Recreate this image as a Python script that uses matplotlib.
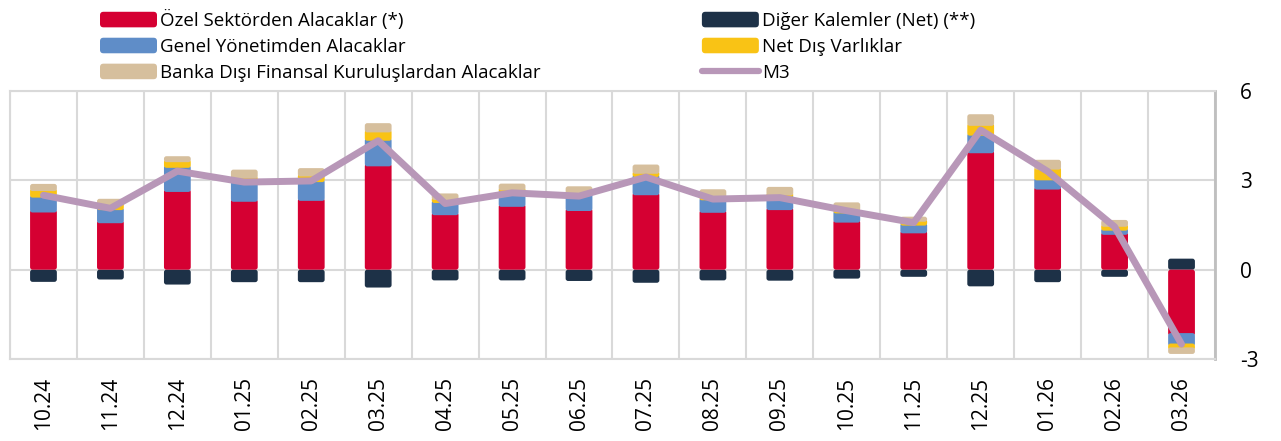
import numpy as np
import matplotlib.pyplot as plt
from matplotlib.patches import FancyBboxPatch, Patch
from matplotlib.lines import Line2D
from matplotlib.legend_handler import HandlerPatch

plt.rcParams['font.family'] = ['Open Sans', 'DejaVu Sans']

months = ['10.24', '11.24', '12.24', '01.25', '02.25', '03.25', '04.25', '05.25', '06.25',
          '07.25', '08.25', '09.25', '10.25', '11.25', '12.25', '01.26', '02.26', '03.26']
ozel = [1.92, 1.56, 2.61, 2.28, 2.31, 3.47, 1.83, 2.11, 1.97, 2.50, 1.91, 2.00, 1.58, 1.22, 3.91, 2.69, 1.17, -2.13]
genel = [0.50, 0.44, 0.81, 0.66, 0.63, 0.86, 0.41, 0.50, 0.53, 0.61, 0.42, 0.44, 0.31, 0.26, 0.59, 0.31, 0.14, -0.35]
net_dis = [0.22, 0.17, 0.19, 0.12, 0.19, 0.28, 0.10, 0.05, 0.05, 0.11, 0.09, 0.05, 0.08, 0.13, 0.33, 0.36, 0.13, -0.13]
banka_disi = [0.24, 0.21, 0.20, 0.30, 0.28, 0.31, 0.22, 0.23, 0.25, 0.31, 0.28, 0.29, 0.29, 0.17, 0.39, 0.33, 0.23, -0.22]
diger = [-0.41, -0.33, -0.50, -0.42, -0.42, -0.60, -0.36, -0.36, -0.38, -0.44, -0.36, -0.37, -0.30, -0.24, -0.56, -0.42, -0.24, 0.37]
m3 = [2.50, 2.06, 3.31, 2.94, 2.98, 4.33, 2.22, 2.58, 2.47, 3.11, 2.37, 2.42, 1.98, 1.58, 4.69, 3.30, 1.44, -2.50]

c_ozel = '#D50032'
c_genel = '#5F8DC8'
c_net = '#F9C315'
c_banka = '#D6BF9D'
c_diger = '#1D3147'
c_m3 = '#B897B8'
grid_c = '#D9D9D9'

W, H = 1281, 441
fig = plt.figure(figsize=(W / 100, H / 100), dpi=100)
ax = fig.add_axes([10 / W, 1 - 359 / H, 1205 / W, 268 / H])

n = len(months)
x = np.arange(n)
ax.set_xlim(-0.5, n - 0.5)
ax.set_ylim(-3, 6)

# rounded corners: data units per pixel, y over x
ax_w_px = 1205
ax_h_px = 268
aspect = (9 / ax_h_px) / (n / ax_w_px)
r_px = 2.5
r_x = r_px * n / ax_w_px
r_y = r_px * 9 / ax_h_px

series = [(diger, c_diger), (ozel, c_ozel), (genel, c_genel), (net_dis, c_net), (banka_disi, c_banka)]
arr = np.array([s[0] for s in series])
top_pos = np.clip(arr, 0, None).sum(axis=0)
top_neg = np.clip(arr, None, 0).sum(axis=0)


def round_bars(bars, color):
    for i, rect in enumerate(bars):
        x0, y0 = rect.get_x(), rect.get_y()
        w, h = rect.get_width(), rect.get_height()
        rect.remove()
        if h == 0:
            continue
        # run a bit under the next segment so the corners leave no gaps
        if h > 0 and y0 + h < top_pos[i] - 1e-9:
            h += r_y
        elif h < 0 and y0 + h > top_neg[i] + 1e-9:
            h -= r_y
        if h < 0:
            y0, h = y0 + h, -h
        dr = min(r_x, w / 2, h / aspect / 2)
        p = FancyBboxPatch((x0, y0), w, h,
                           boxstyle='round,pad=0,rounding_size=%f' % dr,
                           mutation_aspect=aspect, facecolor=color,
                           edgecolor='none', zorder=2)
        ax.add_patch(p)


pos = np.zeros(n)
neg = np.zeros(n)
for vals, color in series:
    v = np.array(vals)
    bottom = np.where(v >= 0, pos, neg)
    bars = ax.bar(x, v, 0.4, bottom=bottom, color=color)
    pos += np.clip(v, 0, None)
    neg += np.clip(v, None, 0)
    round_bars(bars, color)

ax.plot(x, m3, color=c_m3, lw=5, solid_capstyle='round', solid_joinstyle='round', zorder=3)

ax.set_yticks([-3, 0, 3, 6])
ax.set_yticklabels(['-3', '0', '3', '6'])
ax.yaxis.tick_right()
ax.set_xticks(x)
ax.set_xticklabels(months, rotation=90)
ax.set_xticks(np.arange(-0.5, n), minor=True)
ax.tick_params(axis='both', which='both', length=0, labelsize=15, colors='black')
ax.tick_params(axis='y', pad=18)
ax.tick_params(axis='x', pad=13)
for lab in ax.get_yticklabels():
    lab.set_horizontalalignment('left')
ax.set_axisbelow(True)
ax.grid(axis='y', color=grid_c, lw=1.5)
ax.grid(axis='x', which='minor', color=grid_c, lw=1.5)
for s in ax.spines.values():
    s.set_color(grid_c)
    s.set_linewidth(1.5)
ax.spines['right'].set_color('#BFBFBF')
ax.spines['right'].set_linewidth(2)


def rounded_handle(legend, orig_handle, xdescent, ydescent, width, height, fontsize):
    return FancyBboxPatch((-xdescent, -ydescent), width, height,
                          boxstyle='round,pad=0,rounding_size=2.5')


handles = [Patch(facecolor=c_ozel), Patch(facecolor=c_genel), Patch(facecolor=c_banka),
           Patch(facecolor=c_diger), Patch(facecolor=c_net),
           Line2D([], [], color=c_m3, lw=4.5, solid_capstyle='round')]
labels = ['Özel Sektörden Alacaklar (*)', 'Genel Yönetimden Alacaklar',
          'Banka Dışı Finansal Kuruluşlardan Alacaklar',
          'Diğer Kalemler (Net) (**)', 'Net Dış Varlıklar', 'M3']
fig.legend(handles, labels, ncol=2, loc='upper left', bbox_to_anchor=(100 / W, 1 - 10 / H),
           frameon=False, fontsize=13.5, handlelength=3.04, handleheight=0.9,
           handletextpad=0.16, columnspacing=8.6, labelspacing=0.41,
           borderpad=0, borderaxespad=0,
           handler_map={Patch: HandlerPatch(patch_func=rounded_handle)})

fig.savefig('out.png', dpi=100)
